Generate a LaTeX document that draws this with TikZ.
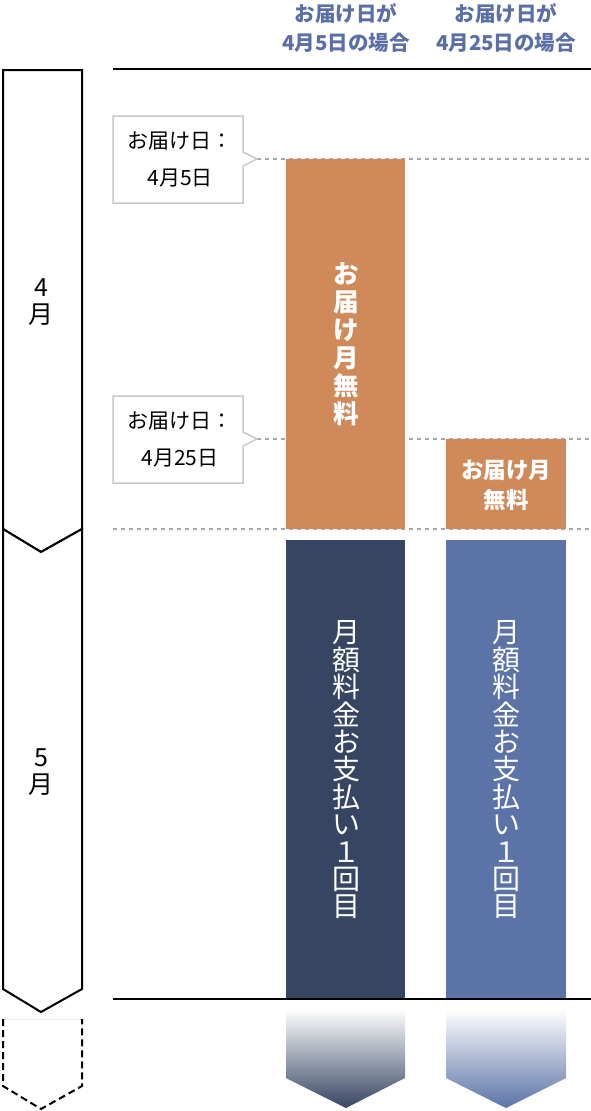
\documentclass[tikz,border=0pt]{standalone}
\usepackage{fontspec}
\setmainfont{Noto Sans CJK JP}
\usetikzlibrary{calc}
\definecolor{hdr}{HTML}{5A6FA5}
\definecolor{orng}{HTML}{D08A5A}
\definecolor{navy}{HTML}{364562}
\definecolor{blu}{HTML}{5B73A7}
\definecolor{callg}{HTML}{C8C8C8}
\newcommand\nolsk{\lineskiplimit-50pt\relax}
\tikzset{
  hdrtext/.style={text=hdr, font={\bfseries\fontsize{20.5}{29.5}\selectfont\nolsk}, align=center, inner sep=0},
  callout/.style={draw=callg, line width=1.5pt, fill=white},
  calltext/.style={font={\fontsize{21}{37}\selectfont\nolsk}, align=center, inner sep=0},
  guide/.style={draw=gray!70, line width=1.2pt, dash pattern=on 4pt off 4pt},
  mline/.style={draw=black, line width=2pt},
  monthbox/.style={draw=black, line width=2pt, fill=white, line join=miter},
  monthtext/.style={font={\fontsize{25}{27.5}\selectfont\nolsk}, align=center, inner sep=0},
  vtext/.style={text=white, font={\fontsize{28}{27.4}\selectfont\nolsk}, align=center, inner sep=0},
  vbold/.style={text=white, font={\bfseries\fontsize{25.5}{28}\selectfont\nolsk}, align=center, inner sep=0},
}
\begin{document}
\begin{tikzpicture}[x=1pt,y=-1pt]
\useasboundingbox (0,0) rectangle (591,1111);

% headers
\node[hdrtext] (h1) at (346,28) {お届け日が\\4月5日の場合};
\node[hdrtext] (h2) at (506,28) {お届け日が\\4月25日の場合};

% horizontal lines
\coordinate (tl) at (113,69);
\coordinate (tr) at (591,69);
\coordinate (bl) at (113,999);
\coordinate (br) at (591,999);
\draw[mline] (tl) -- (tr);

% guides
\coordinate (g1a) at (257,159); \coordinate (g1b) at (591,159);
\coordinate (g2a) at (257,439); \coordinate (g2b) at (591,439);
\coordinate (g3a) at (113,529); \coordinate (g3b) at (591,529);
\draw[guide] (g1a) -- (g1b);
\draw[guide] (g2a) -- (g2b);
\draw[guide] (g3a) -- (g3b);

% left month arrows
\draw[monthbox] (3,70) -- (82,70) -- (82,529) -- (41,552) -- (3,529) -- cycle;
\draw[monthbox] (3,529) -- (41,552) -- (82,529) -- (82,989) -- (41,1012) -- (3,989) -- cycle;
\draw[draw=gray!15, line width=1pt] (3,1019) -- (82,1019);
\draw[draw=black, line width=2pt, dash pattern=on 7pt off 4pt] (3,1019) -- (3,1086) -- (41,1109) -- (82,1086) -- (82,1019);
\node[monthtext] (m4) at (41,302) {4\\月};
\node[monthtext] (m5) at (41,772) {5\\月};

% callouts
\draw[callout] (113,116) -- (243,116) -- (243,152) -- (257,159) -- (243,166) -- (243,203) -- (113,203) -- cycle;
\node[calltext] (c1) at (180,159.5) {お届け日：\\4月5日};
\draw[callout] (113,396) -- (243,396) -- (243,432) -- (257,439) -- (243,446) -- (243,483) -- (113,483) -- cycle;
\node[calltext] (c2) at (180,439.5) {お届け日：\\4月25日};

% orange bars
\fill[orng] (286,159) rectangle (405,529);
\node[vbold] (o1) at (346,344) {お\\届\\け\\月\\無\\料};
\fill[orng] (446,439) rectangle (566,529);
\node[vbold, font={\bfseries\fontsize{22.5}{30}\selectfont\nolsk}] (o2) at (506,485) {お届け月\\無料};

% payment bars
\fill[navy] (286,540) rectangle (405,999);
\fill[blu] (446,540) rectangle (566,999);
\node[vtext] (p1) at (346,770) {月\\額\\料\\金\\お\\支\\払\\い\\１\\回\\目};
\node[vtext] (p2) at (506,770) {月\\額\\料\\金\\お\\支\\払\\い\\１\\回\\目};

\draw[mline] (bl) -- (br);

% gradient arrows
\shade[top color=white, bottom color=navy, middle color=navy!50] (286,1009) -- (405,1009) -- (405,1078) -- (346,1108) -- (286,1078) -- cycle;
\shade[top color=white, bottom color=blu, middle color=blu!50] (446,1009) -- (566,1009) -- (566,1078) -- (506,1108) -- (446,1078) -- cycle;
\end{tikzpicture}
\end{document}
